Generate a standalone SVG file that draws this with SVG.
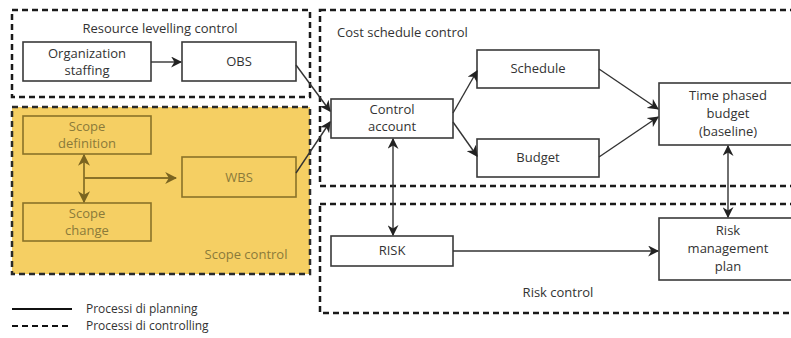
<svg xmlns="http://www.w3.org/2000/svg" width="791" height="338" viewBox="0 0 791 338">
<style>
.grp{fill:none;stroke:#1a1a1a;stroke-width:2.5;stroke-dasharray:6,4}
.box{fill:#fff;stroke:#3a3a3a;stroke-width:1.6}
.ybox{fill:none;stroke:#8a7228;stroke-width:1.6}
text{font-family:"Open Sans","Noto Sans",sans-serif;font-size:13px;fill:#333;text-anchor:middle}
.y{fill:#8a7a3a}
.lt{text-anchor:start}
.lg{font-size:12px}
.c{fill:none;stroke:#333;stroke-width:1.4}
.yc{fill:none;stroke:#8a7228;stroke-width:1.8}
</style>
<defs>
<marker id="a" viewBox="0 0 10 10" refX="9" refY="5" markerWidth="11" markerHeight="11" markerUnits="userSpaceOnUse" orient="auto-start-reverse"><path d="M0,0 L10,5 L0,10 L3,5 z" fill="#222"/></marker>
<marker id="ay" viewBox="0 0 10 10" refX="9" refY="5" markerWidth="12" markerHeight="12" markerUnits="userSpaceOnUse" orient="auto-start-reverse"><path d="M0,0 L10,5 L0,10 L3,5 z" fill="#7a6420"/></marker>
</defs>
<rect width="791" height="338" fill="#fff"/>

<g id="resource-levelling">
<rect class="grp" x="12" y="10" width="298" height="87"/>
<text x="160" y="33">Resource levelling control</text>
</g>
<g id="scope-control">
<rect x="12" y="107" width="298" height="167" fill="#f5cf63" stroke="#2a2a2a" stroke-width="2.5" stroke-dasharray="6,4"/>
<text class="y" x="246" y="259">Scope control</text>
</g>
<g id="cost-schedule">
<rect class="grp" x="320" y="10" width="480" height="176"/>
<text class="lt" x="337" y="37">Cost schedule control</text>
</g>
<g id="risk-control">
<rect class="grp" x="320" y="204" width="480" height="109"/>
<text x="558" y="297">Risk control</text>
</g>

<g id="org-staffing"><rect class="box" x="23" y="42" width="128" height="39"/><text x="87" y="58">Organization</text><text x="87" y="75">staffing</text></g>
<g id="obs"><rect class="box" x="182" y="42" width="114" height="39"/><text x="239" y="66">OBS</text></g>
<g id="scope-definition"><rect class="ybox" x="23" y="116" width="128" height="38"/><text class="y" x="87" y="131">Scope</text><text class="y" x="87" y="148">definition</text></g>
<g id="scope-change"><rect class="ybox" x="23" y="203" width="128" height="38"/><text class="y" x="87" y="218">Scope</text><text class="y" x="87" y="235">change</text></g>
<g id="wbs"><rect class="ybox" x="182" y="157" width="114" height="40"/><text class="y" x="239" y="182">WBS</text></g>
<g id="control-account"><rect class="box" x="331" y="99" width="122" height="39"/><text x="392" y="114">Control</text><text x="392" y="131">account</text></g>
<g id="schedule"><rect class="box" x="477" y="50" width="122" height="38"/><text x="538" y="73">Schedule</text></g>
<g id="budget"><rect class="box" x="477" y="139" width="122" height="38"/><text x="538" y="162">Budget</text></g>
<g id="time-phased-budget"><rect class="box" x="659" y="83" width="140" height="62"/><text x="728" y="100">Time phased</text><text x="728" y="118">budget</text><text x="728" y="136">(baseline)</text></g>
<g id="risk"><rect class="box" x="331" y="236" width="122" height="30"/><text x="392" y="255">RISK</text></g>
<g id="risk-management-plan"><rect class="box" x="659" y="218" width="140" height="62"/><text x="728" y="235">Risk</text><text x="728" y="253">management</text><text x="728" y="271">plan</text></g>

<g id="connectors">
<line class="c" x1="151" y1="62" x2="181" y2="62" marker-end="url(#a)"/>
<line class="c" x1="296" y1="65" x2="330" y2="111" marker-end="url(#a)"/>
<line class="c" x1="296" y1="173" x2="330" y2="122" marker-end="url(#a)"/>
<line class="yc" x1="84" y1="155" x2="84" y2="202" marker-start="url(#ay)" marker-end="url(#ay)"/>
<line class="yc" x1="84" y1="178" x2="176" y2="178" marker-end="url(#ay)"/>
<line class="c" x1="453" y1="113" x2="477" y2="71" marker-end="url(#a)"/>
<line class="c" x1="453" y1="122" x2="477" y2="156" marker-end="url(#a)"/>
<line class="c" x1="599" y1="69" x2="658" y2="109" marker-end="url(#a)"/>
<line class="c" x1="599" y1="157" x2="658" y2="117" marker-end="url(#a)"/>
<line class="c" x1="393" y1="139" x2="393" y2="235" marker-start="url(#a)" marker-end="url(#a)"/>
<line class="c" x1="453" y1="251" x2="658" y2="251" marker-end="url(#a)"/>
<line class="c" x1="728" y1="146" x2="728" y2="217" marker-start="url(#a)" marker-end="url(#a)"/>
</g>

<g id="legend">
<line x1="12" y1="309" x2="72" y2="309" stroke="#111" stroke-width="2.2"/>
<text class="lt lg" x="86" y="313">Processi di planning</text>
<line x1="12" y1="326" x2="72" y2="326" stroke="#111" stroke-width="2.2" stroke-dasharray="6,4"/>
<text class="lt lg" x="86" y="330">Processi di controlling</text>
</g>
</svg>
